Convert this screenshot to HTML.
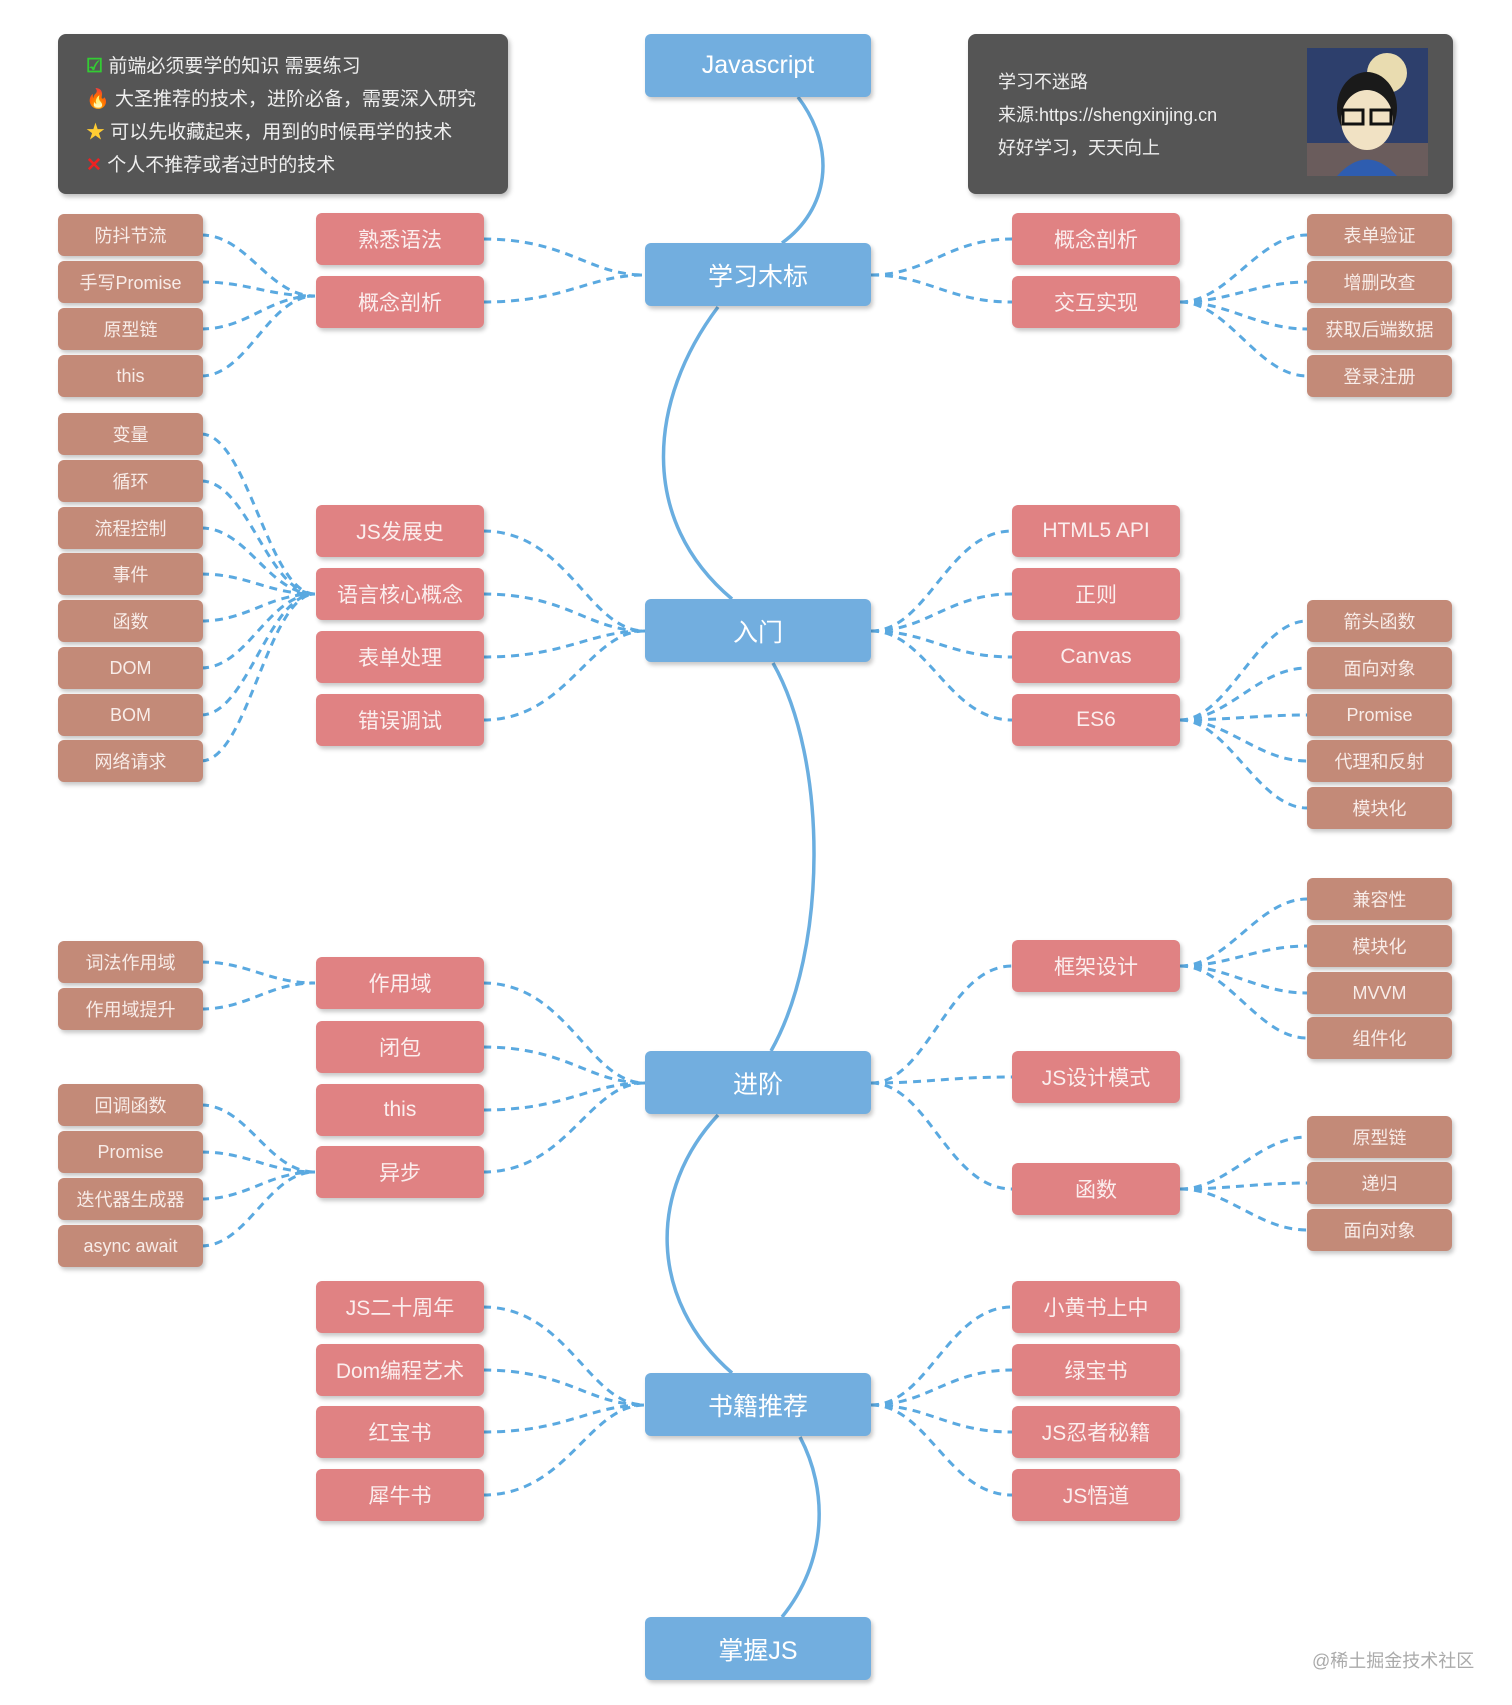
<!DOCTYPE html>
<html><head><meta charset="utf-8">
<style>
*{margin:0;padding:0;box-sizing:border-box}
body{width:1512px;height:1705px;background:#fff;position:relative;overflow:hidden;font-family:"Liberation Sans","Noto Sans CJK SC",sans-serif}
.n{position:absolute;display:flex;align-items:center;justify-content:center;color:#fff;border-radius:6px;box-shadow:2px 3px 4px rgba(0,0,0,.22);white-space:nowrap}
.c{left:645px;width:226px;height:63px;background:#72aedf;font-size:25px}
.p{width:168px;height:52px;background:#e08283;font-size:21px;color:#fbeeee}
.pl{left:316px}.pr{left:1012px}
.l{width:145px;height:42px;background:#c38a78;font-size:18px;color:#f8ece8}
.ll{left:58px}.lr{left:1307px}
.box{position:absolute;background:#555;border-radius:8px;box-shadow:2px 3px 5px rgba(0,0,0,.25);color:#eee;font-size:18px}
.t{position:absolute;white-space:nowrap}
svg{position:absolute;left:0;top:0}
</style></head><body>
<svg width="1512" height="1705">
<g transform="translate(-2,0)">
<g fill="none" stroke="#6aaee0" stroke-width="3.5">
<path d="M800 97 C840 150,830 210,784 243"/>
<path d="M720 307 C650 400,640 520,734 599"/>
<path d="M775 663 C830 760,830 950,773 1051"/>
<path d="M720 1115 C650 1190,650 1300,734 1373"/>
<path d="M802 1437 C830 1490,830 1560,784 1617"/>
</g>
<g fill="none" stroke="#5aa9e0" stroke-width="3" stroke-dasharray="8 6">
<path d="M485 239 C570 239,590 275,647 275"/><path d="M485 302 C570 302,590 275,647 275"/>
<path d="M873 275 C930 275,950 239,1014 239"/><path d="M873 275 C930 275,950 302,1014 302"/>
<path d="M485 531 C570 531,590 631,647 631"/><path d="M485 594 C570 594,590 631,647 631"/><path d="M485 657 C570 657,590 631,647 631"/><path d="M485 720 C570 720,590 631,647 631"/>
<path d="M873 631 C930 631,950 531,1014 531"/><path d="M873 631 C930 631,950 594,1014 594"/><path d="M873 631 C930 631,950 657,1014 657"/><path d="M873 631 C930 631,950 720,1014 720"/>
<path d="M485 983 C570 983,590 1083,647 1083"/><path d="M485 1047 C570 1047,590 1083,647 1083"/><path d="M485 1110 C570 1110,590 1083,647 1083"/><path d="M485 1172 C570 1172,590 1083,647 1083"/>
<path d="M873 1083 C930 1083,950 966,1014 966"/><path d="M873 1083 C930 1083,950 1077,1014 1077"/><path d="M873 1083 C930 1083,950 1189,1014 1189"/>
<path d="M485 1307 C570 1307,590 1405,647 1405"/><path d="M485 1370 C570 1370,590 1405,647 1405"/><path d="M485 1432 C570 1432,590 1405,647 1405"/><path d="M485 1495 C570 1495,590 1405,647 1405"/>
<path d="M873 1405 C930 1405,950 1307,1014 1307"/><path d="M873 1405 C930 1405,950 1370,1014 1370"/><path d="M873 1405 C930 1405,950 1432,1014 1432"/><path d="M873 1405 C930 1405,950 1495,1014 1495"/>
<path d="M203 235 C250 235,270 296,317 296"/><path d="M203 282 C250 282,270 296,317 296"/><path d="M203 329 C250 329,270 296,317 296"/><path d="M203 376 C250 376,270 296,317 296"/>
<path d="M203 434 C250 434,270 594,317 594"/><path d="M203 481 C250 481,270 594,317 594"/><path d="M203 528 C250 528,270 594,317 594"/><path d="M203 574 C250 574,270 594,317 594"/><path d="M203 621 C250 621,270 594,317 594"/><path d="M203 668 C250 668,270 594,317 594"/><path d="M203 715 C250 715,270 594,317 594"/><path d="M203 761 C250 761,270 594,317 594"/>
<path d="M203 962 C250 962,270 983,317 983"/><path d="M203 1009 C250 1009,270 983,317 983"/>
<path d="M203 1105 C250 1105,270 1172,317 1172"/><path d="M203 1152 C250 1152,270 1172,317 1172"/><path d="M203 1199 C250 1199,270 1172,317 1172"/><path d="M203 1246 C250 1246,270 1172,317 1172"/>
<path d="M1182 302 C1230 302,1260 235,1309 235"/><path d="M1182 302 C1230 302,1260 282,1309 282"/><path d="M1182 302 C1230 302,1260 329,1309 329"/><path d="M1182 302 C1230 302,1260 376,1309 376"/>
<path d="M1182 720 C1230 720,1260 621,1309 621"/><path d="M1182 720 C1230 720,1260 668,1309 668"/><path d="M1182 720 C1230 720,1260 715,1309 715"/><path d="M1182 720 C1230 720,1260 761,1309 761"/><path d="M1182 720 C1230 720,1260 808,1309 808"/>
<path d="M1182 966 C1230 966,1260 899,1309 899"/><path d="M1182 966 C1230 966,1260 946,1309 946"/><path d="M1182 966 C1230 966,1260 993,1309 993"/><path d="M1182 966 C1230 966,1260 1038,1309 1038"/>
<path d="M1182 1189 C1230 1189,1260 1137,1309 1137"/><path d="M1182 1189 C1230 1189,1260 1183,1309 1183"/><path d="M1182 1189 C1230 1189,1260 1230,1309 1230"/>
</g>
</g>
</svg>

<div class="box" style="left:58px;top:34px;width:450px;height:160px;font-size:19px">
<div class="t" style="left:28px;top:17px"><span style="color:#3c3;font-weight:bold">☑</span> 前端必须要学的知识 需要练习</div>
<div class="t" style="left:28px;top:50px"><span style="color:#f60">🔥</span> 大圣推荐的技术，进阶必备，需要深入研究</div>
<div class="t" style="left:28px;top:83px"><span style="color:#fc3">★</span> 可以先收藏起来，用到的时候再学的技术</div>
<div class="t" style="left:28px;top:116px"><span style="color:#e22;font-weight:bold">✕</span> 个人不推荐或者过时的技术</div>
</div>
<div class="box" style="left:968px;top:34px;width:485px;height:160px">
<div class="t" style="left:30px;top:34px">学习不迷路</div>
<div class="t" style="left:30px;top:67px">来源:https://shengxinjing.cn</div>
<div class="t" style="left:30px;top:100px">好好学习，天天向上</div>
<svg style="left:339px;top:14px" width="121" height="128" viewBox="0 0 121 128">
<rect width="121" height="128" fill="#2d3f6c"/>
<circle cx="80" cy="25" r="20" fill="#e9dcb0"/>
<rect x="0" y="95" width="121" height="33" fill="#6a5c5c"/>
<ellipse cx="60" cy="60" rx="30" ry="36" fill="#1a1a1a"/>
<ellipse cx="60" cy="72" rx="26" ry="30" fill="#f1e2c4"/>
<rect x="36" y="62" width="20" height="14" fill="none" stroke="#111" stroke-width="3"/>
<rect x="64" y="62" width="20" height="14" fill="none" stroke="#111" stroke-width="3"/>
<path d="M30 128 Q60 95 90 128Z" fill="#2e5db0"/>
</svg>
</div>

<div class="n c" style="top:34px">Javascript</div>
<div class="n c" style="top:243px">学习木标</div>
<div class="n c" style="top:599px">入门</div>
<div class="n c" style="top:1051px">进阶</div>
<div class="n c" style="top:1373px">书籍推荐</div>
<div class="n c" style="top:1617px">掌握JS</div>

<div class="n p pl" style="top:213px">熟悉语法</div>
<div class="n p pl" style="top:276px">概念剖析</div>
<div class="n p pl" style="top:505px">JS发展史</div>
<div class="n p pl" style="top:568px">语言核心概念</div>
<div class="n p pl" style="top:631px">表单处理</div>
<div class="n p pl" style="top:694px">错误调试</div>
<div class="n p pl" style="top:957px">作用域</div>
<div class="n p pl" style="top:1021px">闭包</div>
<div class="n p pl" style="top:1084px">this</div>
<div class="n p pl" style="top:1146px">异步</div>
<div class="n p pl" style="top:1281px">JS二十周年</div>
<div class="n p pl" style="top:1344px">Dom编程艺术</div>
<div class="n p pl" style="top:1406px">红宝书</div>
<div class="n p pl" style="top:1469px">犀牛书</div>

<div class="n p pr" style="top:213px">概念剖析</div>
<div class="n p pr" style="top:276px">交互实现</div>
<div class="n p pr" style="top:505px">HTML5 API</div>
<div class="n p pr" style="top:568px">正则</div>
<div class="n p pr" style="top:631px">Canvas</div>
<div class="n p pr" style="top:694px">ES6</div>
<div class="n p pr" style="top:940px">框架设计</div>
<div class="n p pr" style="top:1051px">JS设计模式</div>
<div class="n p pr" style="top:1163px">函数</div>
<div class="n p pr" style="top:1281px">小黄书上中</div>
<div class="n p pr" style="top:1344px">绿宝书</div>
<div class="n p pr" style="top:1406px">JS忍者秘籍</div>
<div class="n p pr" style="top:1469px">JS悟道</div>

<div class="n l ll" style="top:214px">防抖节流</div>
<div class="n l ll" style="top:261px">手写Promise</div>
<div class="n l ll" style="top:308px">原型链</div>
<div class="n l ll" style="top:355px">this</div>
<div class="n l ll" style="top:413px">变量</div>
<div class="n l ll" style="top:460px">循环</div>
<div class="n l ll" style="top:507px">流程控制</div>
<div class="n l ll" style="top:553px">事件</div>
<div class="n l ll" style="top:600px">函数</div>
<div class="n l ll" style="top:647px">DOM</div>
<div class="n l ll" style="top:694px">BOM</div>
<div class="n l ll" style="top:740px">网络请求</div>
<div class="n l ll" style="top:941px">词法作用域</div>
<div class="n l ll" style="top:988px">作用域提升</div>
<div class="n l ll" style="top:1084px">回调函数</div>
<div class="n l ll" style="top:1131px">Promise</div>
<div class="n l ll" style="top:1178px">迭代器生成器</div>
<div class="n l ll" style="top:1225px">async await</div>

<div class="n l lr" style="top:214px">表单验证</div>
<div class="n l lr" style="top:261px">增删改查</div>
<div class="n l lr" style="top:308px">获取后端数据</div>
<div class="n l lr" style="top:355px">登录注册</div>
<div class="n l lr" style="top:600px">箭头函数</div>
<div class="n l lr" style="top:647px">面向对象</div>
<div class="n l lr" style="top:694px">Promise</div>
<div class="n l lr" style="top:740px">代理和反射</div>
<div class="n l lr" style="top:787px">模块化</div>
<div class="n l lr" style="top:878px">兼容性</div>
<div class="n l lr" style="top:925px">模块化</div>
<div class="n l lr" style="top:972px">MVVM</div>
<div class="n l lr" style="top:1017px">组件化</div>
<div class="n l lr" style="top:1116px">原型链</div>
<div class="n l lr" style="top:1162px">递归</div>
<div class="n l lr" style="top:1209px">面向对象</div>

<div class="t" style="left:1312px;top:1647px;font-size:18px;color:#aaa">@稀土掘金技术社区</div>
</body></html>
